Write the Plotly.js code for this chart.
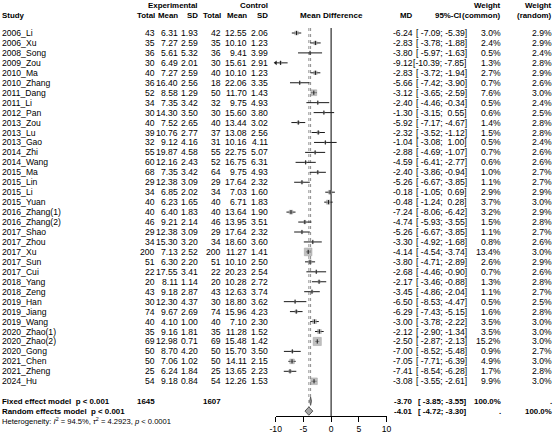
<!DOCTYPE html>
<html>
<head>
<meta charset="utf-8">
<script src="https://cdn.plot.ly/plotly-3.0.1.min.js"></script>
<style>
  html, body { margin: 0; padding: 0; background: #fff; }
  #chart { width: 554px; height: 436px; }
</style>
</head>
<body>
<div id="chart"></div>
<script>
// ---- study data ----
const studies = ["2006_Li", "2006_Xu", "2008_Song", "2009_Zou", "2010_Ma", "2010_Zhang", "2011_Dang", "2011_Li",
  "2012_Pan", "2013_Zou", "2013_Lu", "2013_Gao", "2014_Zhi", "2014_Wang", "2015_Ma", "2015_Lin", "2015_Li",
  "2015_Yuan", "2016_Zhang(1)", "2016_Zhang(2)", "2017_Shao", "2017_Zhou", "2017_Xu", "2017_Sun", "2017_Cui",
  "2018_Yang", "2018_Zeng", "2019_Han", "2019_Jiang", "2019_Wang", "2020_Zhao(1)", "2020_Zhao(2)", "2020_Gong",
  "2021_Chen", "2021_Zheng", "2024_Hu"];
const expN = [43, 35, 36, 30, 40, 36, 52, 34, 30, 40, 39, 32, 55, 60, 68, 29, 34, 40, 40, 46, 29, 34, 200, 51, 22,
  20, 43, 30, 74, 40, 35, 69, 50, 50, 25, 54];
const expMean = [6.31, 7.27, 5.61, 6.49, 7.27, 16.40, 8.58, 7.35, 14.30, 7.52, 10.76, 9.12, 19.87, 12.16, 7.35,
  12.38, 6.85, 6.23, 6.40, 9.21, 12.38, 15.30, 7.13, 6.30, 17.55, 8.11, 9.18, 12.30, 9.67, 4.10, 9.16, 12.98,
  8.70, 7.06, 6.24, 9.18];
const expSD = [1.93, 2.59, 5.32, 2.01, 2.59, 2.56, 1.29, 3.42, 3.50, 2.65, 2.77, 4.16, 4.58, 2.43, 3.42, 3.09,
  2.02, 1.65, 1.83, 2.14, 3.09, 3.20, 2.52, 2.20, 3.41, 1.14, 2.87, 4.37, 2.69, 1.00, 1.81, 0.71, 4.20, 1.02,
  1.84, 0.84];
const ctlN = [42, 35, 36, 30, 40, 18, 50, 32, 30, 40, 37, 31, 55, 52, 64, 29, 34, 40, 40, 46, 29, 34, 200, 51, 22,
  20, 43, 30, 74, 40, 35, 69, 50, 50, 25, 54];
const ctlMean = [12.55, 10.10, 9.41, 15.61, 10.10, 22.06, 11.70, 9.75, 15.60, 13.44, 13.08, 10.16, 22.75, 16.75,
  9.75, 17.64, 7.03, 6.71, 13.64, 13.95, 17.64, 18.60, 11.27, 10.10, 20.23, 10.28, 12.63, 18.80, 15.96, 7.10,
  11.28, 15.48, 15.70, 14.11, 13.65, 12.26];
const ctlSD = [2.06, 1.23, 3.99, 2.91, 1.23, 3.35, 1.43, 4.93, 3.80, 3.02, 2.56, 4.11, 5.07, 6.31, 4.93, 2.32,
  1.60, 1.83, 1.90, 3.51, 2.32, 3.60, 1.41, 2.50, 2.54, 2.72, 3.74, 3.62, 4.23, 2.30, 1.52, 1.42, 3.50, 2.15,
  2.23, 1.53];
const md = [-6.24, -2.83, -3.80, -9.12, -2.83, -5.66, -3.12, -2.40, -1.30, -5.92, -2.32, -1.04, -2.88, -4.59,
  -2.40, -5.26, -0.18, -0.48, -7.24, -4.74, -5.26, -3.30, -4.14, -3.80, -2.68, -2.17, -3.45, -6.50, -6.29,
  -3.00, -2.12, -2.50, -7.00, -7.05, -7.41, -3.08];
const ciLow = [-7.09, -3.78, -5.97, -10.39, -3.72, -7.42, -3.65, -4.46, -3.15, -7.17, -3.52, -3.08, -4.69, -6.41,
  -3.86, -6.67, -1.05, -1.24, -8.06, -5.93, -6.67, -4.92, -4.54, -4.71, -4.46, -3.46, -4.86, -8.53, -7.43,
  -3.78, -2.90, -2.87, -8.52, -7.71, -8.54, -3.55];
const ciHigh = [-5.39, -1.88, -1.63, -7.85, -1.94, -3.90, -2.59, -0.34, 0.55, -4.67, -1.12, 1.00, -1.07, -2.77,
  -0.94, -3.85, 0.69, 0.28, -6.42, -3.55, -3.85, -1.68, -3.74, -2.89, -0.90, -0.88, -2.04, -4.47, -5.15,
  -2.22, -1.34, -2.13, -5.48, -6.39, -6.28, -2.61];
const weightCommon = [3.0, 2.4, 0.5, 1.3, 2.7, 0.7, 7.6, 0.5, 0.6, 1.4, 1.5, 0.5, 0.7, 0.6, 1.0, 1.1, 2.9, 3.7,
  3.2, 1.5, 1.1, 0.8, 13.4, 2.6, 0.7, 1.3, 1.1, 0.5, 1.6, 3.5, 3.5, 15.2, 0.9, 4.9, 1.7, 9.9];
const weightRandom = [2.9, 2.9, 2.4, 2.8, 2.9, 2.6, 3.0, 2.4, 2.5, 2.8, 2.8, 2.4, 2.6, 2.6, 2.7, 2.7, 2.9, 3.0,
  2.9, 2.8, 2.7, 2.6, 3.0, 2.9, 2.6, 2.8, 2.7, 2.5, 2.8, 3.0, 3.0, 3.0, 2.7, 3.0, 2.8, 3.0];

// ---- pooled estimates ----
const modelLabels = ["Fixed effect model", "Random effects model"];
const modelP = ["p < 0.001", "p < 0.001"];
const modelTotalsExp = [1645, null];
const modelTotalsCtl = [1607, null];
const modelMD = [-3.70, -4.01];
const modelLow = [-3.85, -4.72];
const modelHigh = [-3.55, -3.30];
const modelWeightCommon = ["100.0%", "."];
const modelWeightRandom = [".", "100.0%"];
const hetI2 = "94.5%";
const hetTau2 = "4.2923";
const hetP = "< 0.0001";

// ---- axis ticks ----
const tickValues = [-10, -5, 0, 5, 10];
const tickLabels = ["-10", "-5", "0", "5", "10"];

// ---- page geometry ----
const W = 554, H = 436;
const ROW_TOP = 33, ROW_H = 9.95;          // pixel centre of first study row, row pitch
const FONT = "Liberation Sans, Arial, Helvetica, sans-serif";
const FS = 8.6, FS_B = 7.9, FS_HET = 7.6;
const XMIN = -10, XMAX = 10;
const AXIS_PX_L = 275.7, AXIS_PX_R = 386.5, AXIS_PX_Y = 416;

const nStudy = studies.length;
const rowFixed = nStudy + 1, rowRandom = nStudy + 2, rowHet = nStudy + 3;
const rowHead1 = -2.8, rowHead2 = -1.8;

// column right edges (pixels)
const COL = { study: 2, expN: 155, expMean: 178, expSD: 198, ctlN: 221, ctlMean: 247, ctlSD: 268,
  md: 413, ci: 467, ciHead: 461, wC: 501, wR: 552 };

const NB = "\u00a0";
function padLeft(s, n) { while (s.length < n) s = NB + s; return s; }
function ciText(lo, hi) { return "[" + padLeft(lo.toFixed(2), 6) + ";" + NB + padLeft(hi.toFixed(2), 5) + "]"; }

const annotations = [];
function txt(xpx, row, s, anchor, size) {
  annotations.push({
    xref: "paper", yref: "y", x: xpx / W, y: row, text: s, showarrow: false,
    xanchor: anchor, yanchor: "middle", borderpad: 0, borderwidth: 0,
    font: { family: FONT, size: size || FS, color: "#000" }
  });
}
const b = s => "<b>" + s + "</b>";
const bt = (xpx, row, s, anchor) => txt(xpx, row, b(s), anchor, FS_B);

// headers
bt(COL.expSD, rowHead1, "Experimental", "right");
bt(COL.ctlSD, rowHead1, "Control", "right");
bt(COL.wC, rowHead1, "Weight", "right");
bt(COL.wR, rowHead1, "Weight", "right");
bt(COL.study, rowHead2, "Study", "left");
bt(COL.expN, rowHead2, "Total", "right");
bt(COL.expMean, rowHead2, "Mean", "right");
bt(COL.expSD, rowHead2, "SD", "right");
bt(COL.ctlN, rowHead2, "Total", "right");
bt(COL.ctlMean, rowHead2, "Mean", "right");
bt(COL.ctlSD, rowHead2, "SD", "right");
bt(COL.md, rowHead2, "MD", "right");
bt(COL.ciHead, rowHead2, "95%-CI", "right");
bt(COL.wC, rowHead2, "(common)", "right");
bt(COL.wR, rowHead2, "(random)", "right");
annotations.push({
  xref: "x", yref: "y", x: 0, y: rowHead2, text: b("Mean Difference"), showarrow: false,
  xanchor: "center", yanchor: "middle", borderpad: 0, borderwidth: 0,
  font: { family: FONT, size: 8.1, color: "#000" }
});

// study rows
studies.forEach((s, i) => {
  txt(COL.study, i, s, "left");
  txt(COL.expN, i, String(expN[i]), "right");
  txt(COL.expMean, i, expMean[i].toFixed(2), "right");
  txt(COL.expSD, i, expSD[i].toFixed(2), "right");
  txt(COL.ctlN, i, String(ctlN[i]), "right");
  txt(COL.ctlMean, i, ctlMean[i].toFixed(2), "right");
  txt(COL.ctlSD, i, ctlSD[i].toFixed(2), "right");
  txt(COL.md, i, md[i].toFixed(2), "right");
  txt(COL.ci, i, ciText(ciLow[i], ciHigh[i]), "right");
  txt(COL.wC, i, weightCommon[i].toFixed(1) + "%", "right");
  txt(COL.wR, i, weightRandom[i].toFixed(1) + "%", "right");
});

// pooled rows
[rowFixed, rowRandom].forEach((r, k) => {
  bt(COL.study, r, modelLabels[k] + NB + NB + modelP[k].replace("<", "&lt;"), "left");
  if (modelTotalsExp[k] !== null) bt(COL.expN, r, String(modelTotalsExp[k]), "right");
  if (modelTotalsCtl[k] !== null) bt(COL.ctlN, r, String(modelTotalsCtl[k]), "right");
  bt(COL.md, r, modelMD[k].toFixed(2), "right");
  bt(COL.ci, r, ciText(modelLow[k], modelHigh[k]), "right");
  bt(COL.wC, r, modelWeightCommon[k], "right");
  bt(COL.wR, r, modelWeightRandom[k], "right");
});
txt(COL.study, rowHet, "Heterogeneity: <i>I</i><sup>2</sup> = " + hetI2 + ", <i>τ</i><sup>2</sup> = " + hetTau2 +
  ", <i>p</i> " + hetP.replace("<", "&lt;"), "left", FS_HET);

// ---- forest marks ----
const traces = [];
const rows = studies.map((_, i) => i);

// reference lines: no effect, common and random pooled estimates
traces.push({ type: "scatter", mode: "lines", x: [0, 0], y: [-0.5, rowRandom + 0.5],
  line: { color: "#000", width: 1 }, hoverinfo: "skip" });
traces.push({ type: "scatter", mode: "lines", x: [modelMD[0], modelMD[0]], y: [-0.5, rowFixed - 0.4],
  line: { color: "#8c8c8c", width: 1, dash: "dot" }, hoverinfo: "skip" });
traces.push({ type: "scatter", mode: "lines", x: [modelMD[1], modelMD[1]], y: [-0.5, rowRandom - 0.4],
  line: { color: "#8c8c8c", width: 1, dash: "dot" }, hoverinfo: "skip" });

// confidence interval segments (clipped to the axis range)
const segX = [], segY = [];
rows.forEach(i => {
  segX.push(Math.max(ciLow[i], XMIN), Math.min(ciHigh[i], XMAX), null);
  segY.push(i, i, null);
});
traces.push({ type: "scatter", mode: "lines", x: segX, y: segY,
  line: { color: "#1a1a1a", width: 1 }, hoverinfo: "skip" });

// arrow heads where an interval runs past the axis limit
const arrX = [], arrY = [];
rows.forEach(i => { if (ciLow[i] < XMIN) { arrX.push(XMIN); arrY.push(i); } });
traces.push({ type: "scatter", mode: "markers", x: arrX, y: arrY, cliponaxis: false,
  marker: { symbol: "triangle-left", size: 4, color: "#1a1a1a" }, hoverinfo: "skip" });

// weight boxes, side proportional to sqrt(common weight)
traces.push({ type: "scatter", mode: "markers", x: md, y: rows,
  marker: { symbol: "square", size: weightCommon.map(w => Math.max(2.1 * Math.sqrt(w), 1.6)),
    color: "#a6a6a6", line: { color: "#7a7a7a", width: 0.5 } }, hoverinfo: "skip" });
// point estimates
traces.push({ type: "scatter", mode: "markers", x: md, y: rows,
  marker: { symbol: "line-ns", size: 3, line: { color: "#1a1a1a", width: 1 } }, hoverinfo: "skip" });

// pooled diamonds
[rowFixed, rowRandom].forEach((r, k) => {
  traces.push({ type: "scatter", mode: "lines", fill: "toself",
    x: [modelLow[k], modelMD[k], modelHigh[k], modelMD[k], modelLow[k]],
    y: [r, r - 0.42, r, r + 0.42, r],
    fillcolor: "#a6a6a6", line: { color: "#555", width: 1 }, hoverinfo: "skip" });
});

const yTop = -ROW_TOP / ROW_H, yBottom = (H - ROW_TOP) / ROW_H;

const layout = {
  width: W, height: H,
  margin: { l: 0, r: 0, t: 0, b: 0, pad: 0 },
  paper_bgcolor: "#fff", plot_bgcolor: "rgba(0,0,0,0)",
  showlegend: false,
  font: { family: FONT, size: FS, color: "#000" },
  xaxis: {
    domain: [AXIS_PX_L / W, AXIS_PX_R / W], range: [XMIN, XMAX],
    anchor: "free", position: (H - AXIS_PX_Y) / H,
    showline: true, linecolor: "#000", linewidth: 1,
    ticks: "outside", ticklen: 5, tickwidth: 1, tickcolor: "#000",
    tickvals: tickValues, ticktext: tickLabels,
    tickfont: { family: FONT, size: FS, color: "#000" },
    showgrid: false, zeroline: false, fixedrange: true
  },
  yaxis: { domain: [0, 1], range: [yBottom, yTop], visible: false, fixedrange: true },
  annotations: annotations
};

Plotly.newPlot("chart", traces, layout, { displayModeBar: false, staticPlot: true });
</script>
</body>
</html>
